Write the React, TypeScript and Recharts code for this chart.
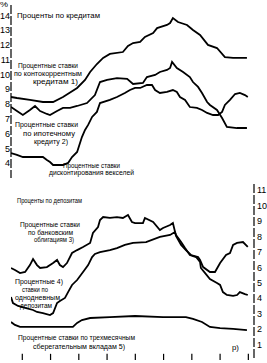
import React from 'react';
import { LineChart, Line, XAxis, YAxis, ReferenceLine } from 'recharts';

// Ставки, % годовых; время — десятичный год
const contoYears = [1978.6, 1978.81, 1979.27, 1979.73, 1980.09, 1980.44, 1980.94, 1981.22, 1981.4, 1981.64, 1981.86, 1982.1, 1982.56, 1982.74, 1982.92, 1983.17, 1983.34, 1983.63, 1983.77, 1984.12, 1984.23, 1984.33, 1984.51, 1984.83, 1985.04, 1985.29, 1985.57, 1985.89, 1986.17, 1986.46, 1986.95];
const contoRates = [8.48, 8.41, 8.28, 8.14, 8.14, 8.48, 9.09, 9.63, 10.17, 10.71, 11.12, 11.39, 11.52, 11.93, 12.13, 12.2, 12.54, 12.81, 13.14, 13.35, 13.48, 13.82, 13.55, 13.35, 13.01, 12.67, 12.0, 11.79, 11.18, 11.12, 11.12];

const mortgageYears = [1978.6, 1978.81, 1979.02, 1979.27, 1979.45, 1979.63, 1979.87, 1979.98, 1980.23, 1980.44, 1980.69, 1980.94, 1981.29, 1981.57, 1981.75, 1982.0, 1982.35, 1982.71, 1982.92, 1983.27, 1983.41, 1983.7, 1983.87, 1984.12, 1984.23, 1984.3, 1984.47, 1984.69, 1984.93, 1985.04, 1985.22, 1985.36, 1985.54, 1985.64, 1985.89, 1986.07, 1986.24, 1986.6, 1986.95];
const mortgageRates = [7.8, 7.53, 7.26, 7.6, 7.87, 7.53, 7.33, 7.26, 7.53, 7.74, 7.74, 7.87, 8.07, 8.61, 9.49, 9.63, 9.76, 9.7, 9.36, 9.43, 9.83, 9.97, 10.17, 10.31, 10.44, 10.85, 10.44, 10.17, 9.83, 9.49, 9.16, 8.75, 8.14, 7.94, 7.6, 7.06, 6.45, 6.38, 6.38];

const discountYears = [1978.6, 1978.81, 1979.02, 1979.73, 1979.87, 1979.98, 1980.09, 1980.44, 1980.62, 1980.76, 1980.94, 1981.11, 1981.22, 1981.33, 1981.47, 1981.64, 1981.75, 1982.1, 1982.35, 1982.63, 1982.81, 1982.99, 1983.17, 1983.41, 1983.59, 1983.7, 1983.87, 1984.12, 1984.33, 1984.47, 1984.58, 1984.76, 1984.93, 1985.18, 1985.36, 1985.54, 1985.75, 1985.93, 1986.07, 1986.17, 1986.35, 1986.53, 1986.7, 1986.88, 1986.98];
const discountRates = [4.69, 4.56, 4.42, 4.42, 4.22, 4.08, 3.88, 3.88, 4.02, 4.42, 4.76, 5.77, 6.25, 6.59, 7.13, 7.47, 8.07, 8.28, 8.48, 8.75, 8.95, 9.09, 9.09, 9.29, 9.29, 8.95, 8.75, 8.82, 8.95, 8.82, 8.48, 8.28, 7.8, 7.74, 7.6, 7.4, 7.26, 7.26, 7.47, 7.94, 8.28, 8.68, 8.75, 8.61, 8.48];

const bondYears = [1978.6, 1978.74, 1978.92, 1979.1, 1979.27, 1979.38, 1979.52, 1979.63, 1979.87, 1980.09, 1980.23, 1980.33, 1980.44, 1980.58, 1980.76, 1980.94, 1981.15, 1981.4, 1981.5, 1981.68, 1981.75, 1981.86, 1982.1, 1982.35, 1982.56, 1982.74, 1982.88, 1982.99, 1983.27, 1983.34, 1983.63, 1983.87, 1983.98, 1984.23, 1984.33, 1984.44, 1984.62, 1984.79, 1984.97, 1985.22, 1985.29, 1985.4, 1985.64, 1985.82, 1986.0, 1986.21, 1986.35, 1986.46, 1986.6, 1986.81, 1986.98];
const bondRates = [5.96, 5.83, 5.63, 5.7, 6.15, 6.54, 6.15, 5.96, 6.02, 6.28, 6.48, 6.15, 6.02, 6.28, 6.93, 7.12, 7.32, 7.58, 8.23, 8.61, 9.07, 9.26, 9.2, 9.26, 9.2, 9.39, 8.94, 8.87, 8.87, 9.2, 8.94, 8.42, 8.55, 8.74, 8.87, 8.03, 7.45, 7.12, 6.8, 6.67, 6.48, 6.02, 5.7, 5.7, 6.28, 6.8, 6.93, 7.45, 7.58, 7.64, 7.32];

const overnightYears = [1978.6, 1978.67, 1978.85, 1979.1, 1979.38, 1979.52, 1979.73, 1979.98, 1980.09, 1980.23, 1980.33, 1980.51, 1980.62, 1980.76, 1980.94, 1981.15, 1981.33, 1981.47, 1981.57, 1981.75, 1982.1, 1982.35, 1982.63, 1982.92, 1983.38, 1983.87, 1984.23, 1984.4, 1984.44, 1984.62, 1984.76, 1984.93, 1985.15, 1985.29, 1985.32, 1985.47, 1985.64, 1985.89, 1986.0, 1986.1, 1986.24, 1986.46, 1986.6, 1986.7, 1986.88, 1986.98];
const overnightRates = [4.08, 3.69, 3.5, 3.37, 3.24, 3.11, 3.04, 2.91, 3.04, 3.69, 3.82, 4.02, 4.4, 4.86, 5.18, 5.7, 6.15, 6.67, 6.87, 6.99, 7.12, 7.25, 7.45, 7.58, 7.64, 7.97, 8.1, 8.29, 8.1, 7.64, 7.25, 6.8, 6.67, 6.35, 5.96, 5.63, 5.25, 4.99, 4.86, 4.4, 4.21, 4.15, 4.21, 4.4, 4.27, 4.21];

const savingsYears = [1978.6, 1978.74, 1978.92, 1980.79, 1980.94, 1981.11, 1981.4, 1982.1, 1982.99, 1983.98, 1984.79, 1985.04, 1985.36, 1985.64, 1986.0, 1986.46, 1986.95];
const savingsRates = [2.46, 2.27, 2.14, 2.14, 2.4, 2.59, 2.72, 2.78, 2.85, 2.78, 2.78, 2.66, 2.46, 2.14, 2.07, 2.01, 1.94];

const yearTicks = [1979, 1980, 1981, 1982, 1983, 1984, 1985, 1986, 1987];
const creditTicks = [4, 5, 6, 7, 8, 9, 10, 11, 12, 13, 14];
const depositTicks = [1, 2, 3, 4, 5, 6, 7, 8, 9, 10, 11];

const zip = (years: number[], rates: number[]) => years.map((t, i) => ({ t, v: rates[i] }));

const FONT = '"Liberation Sans", Arial, sans-serif';
const tickStyle = { fill: '#000', fontSize: 9, fontFamily: FONT };

const Series = ({ data }: { data: { t: number; v: number }[] }) => (
  <Line
    data={data}
    dataKey="v"
    type="linear"
    stroke="#000"
    strokeWidth={1.8}
    dot={false}
    activeDot={false}
    isAnimationActive={false}
  />
);

// подписи: x, базовая линия, ширина
const T = ({ x, y, w, size = 6.6, children }: { x: number; y: number; w: number; size?: number; children: React.ReactNode }) => (
  <text x={x} y={y} fontSize={size} fontFamily={FONT} fill="#000" textLength={w} lengthAdjust="spacingAndGlyphs">
    {children}
  </text>
);

export default function App() {
  return (
    <div style={{ position: 'absolute', left: 0, top: 0, width: 267, height: 363, background: '#fff' }}>
      <div style={{ position: 'absolute', left: 0, top: 0 }}>
        <LineChart width={267} height={180} margin={{ top: 5, right: 13, bottom: 2, left: 0 }}>
          <XAxis
            dataKey="t"
            type="number"
            domain={[1978.6, 1987.2]}
            allowDataOverflow
            height={0}
            tick={false}
            tickLine={false}
            axisLine={{ stroke: '#000', strokeWidth: 1.3 }}
          />
          <YAxis
            type="number"
            domain={[3, 14.7]}
            ticks={creditTicks}
            interval={0}
            allowDataOverflow
            width={11}
            tickLine={false}
            tickSize={0}
            tickMargin={1}
            tick={tickStyle}
            axisLine={{ stroke: '#000', strokeWidth: 1.2, strokeDasharray: '9 2' }}
          />
          <Series data={zip(contoYears, contoRates)} />
          <Series data={zip(mortgageYears, mortgageRates)} />
          <Series data={zip(discountYears, discountRates)} />
        </LineChart>
      </div>
      <div style={{ position: 'absolute', left: 0, top: 178 }}>
        <LineChart width={267} height={185} margin={{ top: 6, right: 0, bottom: 3, left: 11 }}>
          <XAxis
            dataKey="t"
            type="number"
            domain={[1978.6, 1987.2]}
            allowDataOverflow
            height={0}
            tick={false}
            tickLine={false}
            axisLine={{ stroke: '#000', strokeWidth: 1.3 }}
          />
          <YAxis
            orientation="right"
            type="number"
            domain={[0, 11.4]}
            ticks={depositTicks}
            interval={0}
            allowDataOverflow
            width={13}
            tickLine={false}
            tickSize={0}
            tickMargin={3}
            tick={tickStyle}
            axisLine={{ stroke: '#000', strokeWidth: 1.2, strokeDasharray: '9 2' }}
          />
          {/* годовые засечки на оси времени */}
          {yearTicks.map((yr) => (
            <ReferenceLine
              key={yr}
              segment={[{ x: yr, y: 0 }, { x: yr, y: 0.4 }]}
              stroke="#000"
              strokeWidth={1.2}
              ifOverflow="visible"
            />
          ))}
          <Series data={zip(bondYears, bondRates)} />
          <Series data={zip(overnightYears, overnightRates)} />
          <Series data={zip(savingsYears, savingsRates)} />
        </LineChart>
      </div>
      <svg width={267} height={363} style={{ position: 'absolute', left: 0, top: 0, pointerEvents: 'none' }}>
        <T x={0} y={7} w={8} size={8}>%</T>
        <T x={17} y={17.5} w={83} size={7.6}>Проценты по кредитам</T>
        <T x={18} y={67.5} w={60}>Процентные ставки</T>
        <T x={14} y={75.5} w={68}>по контокоррентным</T>
        <T x={33} y={84} w={45}>кредитам 1)</T>
        <T x={15} y={126.5} w={63}>Процентные ставки</T>
        <T x={23} y={135.5} w={52}>по ипотечному</T>
        <T x={34} y={143.5} w={34}>кредиту 2)</T>
        <T x={63} y={167.5} w={57}>Процентные ставки</T>
        <T x={49} y={174.5} w={85}>дисконтирования векселей</T>

        <T x={17} y={202.5} w={65} size={7.2}>Проценты по депозитам</T>
        <T x={20} y={226.5} w={60}>Процентные ставки</T>
        <T x={28} y={234.5} w={45}>по банковским</T>
        <T x={34} y={242} w={40}>облигациям 3)</T>
        <T x={15} y={283.5} w={48}>Процентные 4)</T>
        <T x={22} y={291.5} w={26}>ставки по</T>
        <T x={15} y={299.5} w={45}>однодневным</T>
        <T x={20} y={307.5} w={32}>депозитам</T>
        <T x={18} y={339.5} w={117}>Процентные ставки по трехмесячным</T>
        <T x={33} y={348.5} w={92}>сберегательным вкладам 5)</T>
        <T x={232} y={349.5} w={7}>р)</T>
      </svg>
    </div>
  );
}
